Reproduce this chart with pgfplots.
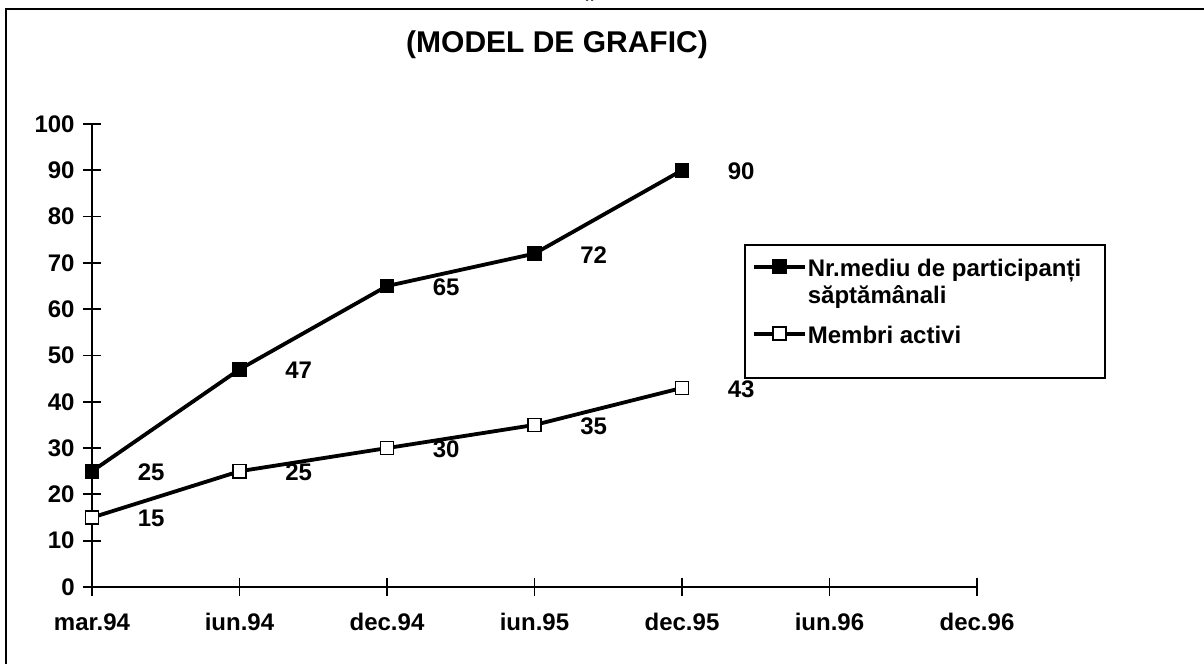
\documentclass[border=0pt]{standalone}
\usepackage{fontspec}
\setmainfont{Liberation Sans}
\usepackage{pgfplots}
\pgfplotsset{compat=1.18}
\begin{document}
\begin{tikzpicture}[x=0.5pt,y=0.5pt]
\useasboundingbox (0,0) rectangle (1204,664);
% frame (top and left only)
\draw[line width=1.2pt] (6,0) -- (6,655) -- (1204,655);
\node[font=\fontsize{12pt}{14pt}\selectfont\bfseries, anchor=base] at (590,666) {„};
\node[font=\fontsize{15pt}{18pt}\selectfont\bfseries] at (557,619) {(MODEL DE GRAFIC)};
% legend box
\draw[line width=1pt] (745,286) rectangle (1105,419);
\begin{axis}[
  at={(46pt,38.5pt)}, anchor=south west,
  scale only axis, width=442.5pt, height=231.5pt,
  xmin=0, xmax=6, ymin=0, ymax=100,
  xtick={0,...,6},
  xticklabels={mar.94,iun.94,dec.94,iun.95,dec.95,iun.96,dec.96},
  ytick={0,10,...,100},
  axis lines=left,
  axis line style={-, line width=1pt, black},
  tick style={line width=0.9pt, black},
  tick align=center,
  major tick length=9pt,
  /pgf/number format/assume math mode=true,
  tick label style={font=\fontsize{12pt}{14pt}\selectfont\bfseries},
  yticklabel style={anchor=east, inner sep=0pt, xshift=-4pt},
  xticklabel style={anchor=north, inner sep=0pt, yshift=-8.5pt},
  clip=false,
  every node near coord/.append style={anchor=west, inner sep=0pt, xshift=22.5pt, yshift=-0.5pt, font=\fontsize{12pt}{14pt}\selectfont\bfseries, black},
  legend image code/.code={\draw[mark repeat=2,mark phase=2] plot coordinates {(0pt,5pt)(12.75pt,5pt)(25.5pt,5pt)};},
  legend style={draw=none, fill=none, at={(0.7458,0.7197)}, anchor=north west,
    inner sep=0pt, outer sep=0pt, row sep=4pt, column sep=-1.5pt,
    cells={anchor=base west, inner sep=0pt},
    font=\fontsize{12pt}{13.5pt}\selectfont\bfseries},
]
\addplot[black, line width=1.9pt, mark=square*, mark size=3.3pt,
  mark options={solid, fill=black, line width=0.8pt}, nodes near coords]
  coordinates {(0,25) (1,47) (2,65) (3,72) (4,90)};
\addlegendentry{\begin{tabular}[t]{@{}l@{}}Nr.mediu de participanți\\săptămânali\end{tabular}}
\addplot[black, line width=1.9pt, mark=square*, mark size=3.3pt,
  mark options={solid, fill=white, draw=black, line width=0.8pt}, nodes near coords]
  coordinates {(0,15) (1,25) (2,30) (3,35) (4,43)};
\addlegendentry{\rule{0pt}{24pt}Membri activi}
\end{axis}
\end{tikzpicture}
\end{document}
